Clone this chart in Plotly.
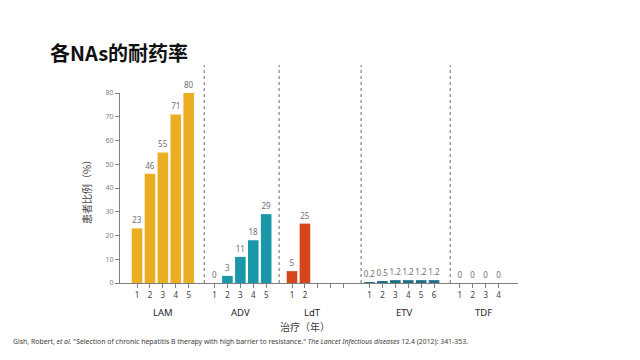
import plotly.graph_objects as go

# ---- data ----
lam_years = ["1", "2", "3", "4", "5"]
lam_values = [23, 46, 55, 71, 80]
adv_years = ["1", "2", "3", "4", "5"]
adv_values = [0, 3, 11, 18, 29]
ldt_years = ["1", "2", "", "", ""]
ldt_values = [5, 25]
etv_years = ["1", "2", "3", "4", "5", "6"]
etv_values = [0.2, 0.5, 1.2, 1.2, 1.2, 1.2]
etv_text = ["0.2", "0.5", "1.2", "1.2", "1.2", "1.2"]
tdf_years = ["1", "2", "3", "4"]
tdf_values = [0, 0, 0, 0]

groups = ["LAM", "ADV", "LdT", "ETV", "TDF"]
group_start = [0, 6, 12, 18, 25]
group_label_pos = [2, 8, 13.6, 20.7, 26.8]
divider_pos = [5.2, 11, 17.35, 24.25]

colors = {"LAM": "#EBAD22", "ADV": "#1A98A9", "LdT": "#D5461D", "ETV": "#1E6E88", "TDF": "#1A98A9"}

fig = go.Figure()

series = [
    ("LAM", lam_values, [str(v) for v in lam_values]),
    ("ADV", adv_values, [str(v) for v in adv_values]),
    ("LdT", ldt_values, [str(v) for v in ldt_values]),
    ("ETV", etv_values, etv_text),
    ("TDF", tdf_values, [str(v) for v in tdf_values]),
]
year_lists = [lam_years, adv_years, ldt_years, etv_years, tdf_years]

for (name, vals, txt), start in zip(series, group_start):
    xs = [start + i for i in range(len(vals))]
    fig.add_trace(go.Bar(
        x=xs, y=vals, text=txt, textposition="outside", cliponaxis=False,
        constraintext="none",
        marker=dict(color=colors[name], line=dict(width=0)),
        textfont=dict(size=8, color="#707070", family="Noto Sans"),
        width=0.82, name=name, showlegend=False, hoverinfo="skip",
    ))

tickvals, ticktext = [], []
for start, yl in zip(group_start, year_lists):
    for i, lab in enumerate(yl):
        tickvals.append(start + i)
        ticktext.append(lab)

fig.update_layout(
    width=640, height=360,
    margin=dict(l=120, r=122, t=93, b=77),
    plot_bgcolor="white", paper_bgcolor="white",
    font=dict(family="Noto Sans, Noto Sans CJK SC", color="#404040"),
    bargap=0.1,
    xaxis=dict(
        range=[-1.32, 29.5], tickvals=tickvals, ticktext=ticktext,
        showgrid=False, zeroline=False, showline=True, linecolor="#7f7f7f", linewidth=1,
        ticks="outside", ticklen=4, tickcolor="#7f7f7f",
        tickfont=dict(size=8, color="#404040"),
    ),
    yaxis=dict(
        range=[0, 80], tickvals=[0, 10, 20, 30, 40, 50, 60, 70, 80],
        showgrid=False, zeroline=False, showline=True, linecolor="#7f7f7f", linewidth=1,
        ticks="outside", ticklen=4, tickcolor="#7f7f7f",
        tickfont=dict(size=7, color="#7f7f7f"),
    ),
)

for d in divider_pos:
    fig.add_shape(type="line", xref="x", yref="paper", x0=d, x1=d, y0=0, y1=1.147,
                  line=dict(color="#6a6a6a", width=1, dash="dot"))

for g, pos in zip(groups, group_label_pos):
    fig.add_annotation(x=pos, xref="x", y=(283 - 312) / 190, yref="paper", yanchor="middle",
                       text=g, showarrow=False, font=dict(size=9.5, color="#262626"))

fig.add_annotation(x=297 / 640, xref="paper", y=(283 - 326) / 190, yref="paper", yanchor="middle",
                   text="治疗（年）", showarrow=False,
                   font=dict(size=10, color="#404040", family="Noto Sans CJK SC"))

fig.add_annotation(x=(86 - 120) / 398, xref="paper", y=(283 - 190) / 190, yref="paper",
                   xanchor="center", yanchor="middle", textangle=-90,
                   text="患者比例（%）", showarrow=False,
                   font=dict(size=10, color="#404040", family="Noto Sans CJK SC"))

fig.add_annotation(x=(48 - 120) / 398, xref="paper", xanchor="left",
                   y=(283 - 52) / 190, yref="paper", yanchor="middle",
                   text="<b>各NAs的耐药率</b>", showarrow=False,
                   font=dict(size=20, color="#111111", family="Noto Sans CJK SC"))

fig.add_annotation(x=(11 - 120) / 398, xref="paper", xanchor="left",
                   y=(283 - 341) / 190, yref="paper", yanchor="middle",
                   text='Gish, Robert, <i>et al.</i> "Selection of chronic hepatitis B therapy with high barrier to resistance." '
                        '<i>The Lancet Infectious diseases</i> 12.4 (2012): 341-353.',
                   showarrow=False, font=dict(size=6.9, color="#404040", family="Noto Sans"))

fig.write_html("out.html", post_script="document.body.style.margin='0';",
               config={"displayModeBar": False})
